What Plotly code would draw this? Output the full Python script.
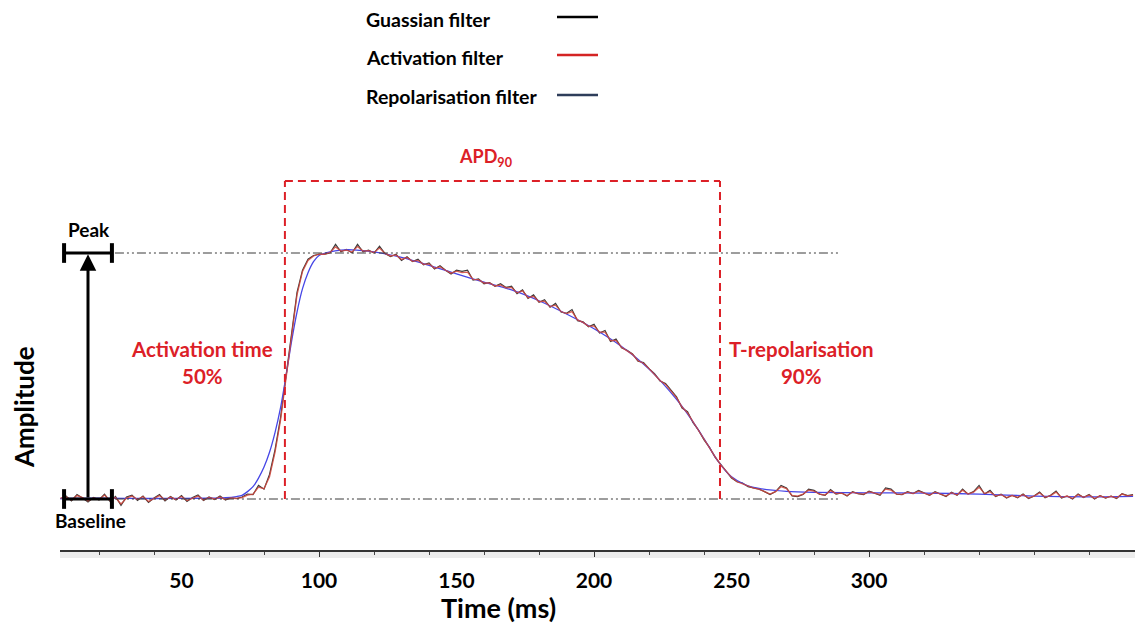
import plotly.graph_objects as go

# ---------------- data ----------------
time_ms = list(range(6, 397, 2))  # sampling grid, 2 ms

gaussian_vals = [
    # 6-70 ms baseline
    0.000, 0.012, -0.008, 0.018, 0.004, -0.012, 0.006, -0.004, 0.020, -0.010,
    0.010, -0.026, 0.008, 0.016, -0.006, 0.012, -0.014, 0.004, 0.018, -0.008,
    0.010, -0.004, 0.014, -0.010, 0.006, 0.016, -0.006, 0.008, -0.002, 0.012,
    -0.004, 0.006, 0.002,
    # 72-100 ms upstroke
    0.008, 0.020, 0.018, 0.055, 0.040, 0.100, 0.200, 0.330, 0.500, 0.670,
    0.840, 0.930, 0.975, 0.990, 0.995,
    # 102-396 ms plateau, repolarisation, tail
    0.995, 1.000, 1.035, 1.005, 1.015, 1.000, 1.035, 1.005, 1.012, 1.000,
    1.028, 0.998, 0.985, 0.995, 0.970, 0.985, 0.965, 0.975, 0.952, 0.960,
    0.935, 0.948, 0.930, 0.915, 0.930, 0.925, 0.930, 0.890, 0.895, 0.875,
    0.880, 0.865, 0.875, 0.860, 0.865, 0.835, 0.850, 0.815, 0.830, 0.800,
    0.810, 0.780, 0.795, 0.760, 0.755, 0.770, 0.725, 0.720, 0.700, 0.710,
    0.675, 0.685, 0.640, 0.650, 0.615, 0.605, 0.590, 0.560, 0.555, 0.530,
    0.510, 0.480, 0.470, 0.440, 0.415, 0.370, 0.355, 0.310, 0.280, 0.240,
    0.210, 0.170, 0.140, 0.115, 0.085, 0.070, 0.065, 0.050, 0.045, 0.040,
    0.030, 0.018, 0.030, 0.055, 0.045, 0.012, 0.010, 0.018, 0.040, 0.035,
    0.020, 0.015, 0.038, 0.020, 0.025, 0.012, 0.030, 0.022, 0.018, 0.032,
    0.024, 0.015, 0.045, 0.040, 0.020, 0.018, 0.030, 0.022, 0.035, 0.025,
    0.015, 0.030, 0.020, 0.010, 0.028, 0.015, 0.040, 0.020, 0.030, 0.055,
    0.020, 0.035, 0.010, 0.020, 0.004, 0.015, 0.005, 0.020, 0.002, 0.012,
    0.028, 0.005, 0.015, 0.032, 0.004, 0.012, 0.000, 0.020, 0.006, 0.018,
    0.000, 0.014, 0.004, 0.012, 0.002, 0.022, 0.014, 0.018,
]

activation_vals = [
    0.004, 0.008, -0.004, 0.014, 0.006, -0.008, 0.004, -0.002, 0.016, -0.006,
    0.006, -0.020, 0.004, 0.012, -0.002, 0.010, -0.010, 0.002, 0.014, -0.004,
    0.008, -0.002, 0.010, -0.006, 0.004, 0.012, -0.004, 0.006, 0.000, 0.008,
    -0.002, 0.004, 0.002,
    0.006, 0.016, 0.020, 0.048, 0.042, 0.090, 0.190, 0.320, 0.490, 0.660,
    0.830, 0.925, 0.970, 0.988, 0.995,
    0.995, 1.002, 1.025, 1.008, 1.012, 1.004, 1.026, 1.008, 1.010, 1.002,
    1.020, 0.998, 0.988, 0.992, 0.974, 0.982, 0.966, 0.970, 0.954, 0.956,
    0.938, 0.944, 0.930, 0.918, 0.926, 0.920, 0.922, 0.893, 0.892, 0.878,
    0.878, 0.866, 0.870, 0.858, 0.860, 0.838, 0.846, 0.818, 0.824, 0.802,
    0.804, 0.782, 0.788, 0.762, 0.754, 0.762, 0.728, 0.718, 0.702, 0.704,
    0.678, 0.678, 0.644, 0.645, 0.617, 0.604, 0.588, 0.562, 0.552, 0.530,
    0.508, 0.482, 0.466, 0.438, 0.412, 0.374, 0.350, 0.314, 0.278, 0.244,
    0.208, 0.172, 0.140, 0.112, 0.088, 0.070, 0.062, 0.052, 0.044, 0.040,
    0.030, 0.020, 0.030, 0.050, 0.042, 0.015, 0.012, 0.020, 0.036, 0.032,
    0.020, 0.016, 0.034, 0.022, 0.024, 0.014, 0.028, 0.022, 0.020, 0.030,
    0.024, 0.018, 0.040, 0.036, 0.020, 0.019, 0.028, 0.022, 0.032, 0.024,
    0.016, 0.028, 0.020, 0.012, 0.026, 0.016, 0.036, 0.020, 0.028, 0.048,
    0.022, 0.030, 0.012, 0.018, 0.006, 0.014, 0.007, 0.018, 0.004, 0.012,
    0.025, 0.007, 0.014, 0.028, 0.006, 0.012, 0.002, 0.018, 0.007, 0.016,
    0.002, 0.013, 0.005, 0.011, 0.004, 0.020, 0.013, 0.016,
]

repol_time = [6, 20, 40, 60, 66, 70, 72, 74, 76, 78, 80, 82, 84, 86, 88, 90,
              92, 94, 96, 98, 100, 104, 108, 112, 116, 120, 130, 140, 150,
              160, 170, 180, 190, 200, 210, 220, 230, 235, 240, 245, 250,
              255, 260, 270, 280, 300, 320, 340, 360, 380, 396]
repol_vals = [0.002, 0.003, 0.002, 0.003, 0.005, 0.010, 0.015, 0.030, 0.050,
              0.085, 0.130, 0.190, 0.270, 0.370, 0.500, 0.640, 0.760, 0.855,
              0.920, 0.965, 0.990, 1.005, 1.012, 1.013, 1.010, 1.005, 0.982,
              0.950, 0.915, 0.882, 0.850, 0.806, 0.752, 0.692, 0.620, 0.528,
              0.405, 0.330, 0.245, 0.155, 0.090, 0.058, 0.043, 0.031, 0.027,
              0.025, 0.024, 0.020, 0.012, 0.009, 0.011]

x_tick_labels = [50, 100, 150, 200, 250, 300]
x_minor_ticks = [20, 40, 60, 80, 100, 120, 140, 160, 180, 200, 220, 240, 260,
                 280, 300, 320, 340, 360, 380]
x_major_ticks = [100, 200, 300]

baseline_level = 0.0
peak_level = 1.0
activation_time_ms = 87.6   # 50 % activation
repol_time_ms = 245.8       # 90 % repolarisation
apd_box_top = 1.293

# ---------------- styling ----------------
W, H = 1135, 626
FONT = "Lato"
RED = "#dc2027"
BLUE = "#4646e6"
NAVY = "#2e3d5a"

fig = go.Figure()
fig.add_trace(go.Scatter(x=time_ms, y=gaussian_vals, mode="lines", name="Guassian filter",
                         line=dict(color="#3a3a3a", width=1.2), showlegend=False, hoverinfo="skip"))
fig.add_trace(go.Scatter(x=time_ms, y=activation_vals, mode="lines", name="Activation filter",
                         line=dict(color="#d0453a", width=1.3), opacity=0.85, showlegend=False,
                         xaxis="x3", hoverinfo="skip"))
fig.add_trace(go.Scatter(x=repol_time, y=repol_vals, mode="lines", name="Repolarisation filter",
                         line=dict(color=BLUE, width=1.3, shape="spline", smoothing=0.8),
                         xaxis="x2", showlegend=False, hoverinfo="skip"))

x_left_px, axis_px = 60, 550
x_range = [5.82, 396.7]
y_range = [-0.2073, 2.0285]

fig.update_layout(
    width=W, height=H,
    margin=dict(l=0, r=0, t=0, b=0),
    paper_bgcolor="white", plot_bgcolor="white",
    font=dict(family=FONT, color="black"),
    # minor tick marks every 20 ms
    xaxis=dict(domain=[x_left_px / W, 1], range=x_range, showgrid=False, zeroline=False,
               showline=True, linecolor="#333333", linewidth=1.5,
               tickmode="array", tickvals=x_minor_ticks, ticks="outside", ticklen=3,
               tickwidth=1, tickcolor="#444444", showticklabels=False),
    # tick labels every 50 ms
    xaxis2=dict(overlaying="x", matches="x", anchor="y", side="bottom", range=x_range,
                showgrid=False, zeroline=False, showline=False, ticks="",
                tickmode="array", tickvals=x_tick_labels,
                ticktext=[str(v) for v in x_tick_labels],
                tickfont=dict(family=FONT, size=21, color="black", weight="bold"),
                ticklabelstandoff=16),
    # taller marks at 100, 200, 300
    xaxis3=dict(overlaying="x", matches="x", anchor="y", side="bottom", range=x_range,
                showgrid=False, zeroline=False, showline=False,
                tickmode="array", tickvals=x_major_ticks, ticks="outside", ticklen=6,
                tickwidth=1.3, tickcolor="#333333", showticklabels=False),
    yaxis=dict(domain=[1 - axis_px / H, 1], range=y_range, visible=False),
)

shapes = []
# light strip under the axis line
shapes.append(dict(type="rect", xref="paper", yref="paper", x0=x_left_px / W, x1=1,
                   y0=1 - 558 / H, y1=1 - 551.5 / H, fillcolor="#ececec", line=dict(width=0),
                   layer="below"))
# peak / baseline dash-dot guide lines
ddot = "9px,3px,2px,3px,2px,3px"
for lvl in (peak_level, baseline_level):
    shapes.append(dict(type="line", xref="x", yref="y", x0=25.8, x1=288.7, y0=lvl, y1=lvl,
                       line=dict(color="#3a3a3a", width=1, dash=ddot)))
# APD90 dashed box (open at the bottom)
red_dash = dict(color=RED, width=2, dash="8px,5px")
shapes.append(dict(type="line", xref="x", yref="y", x0=activation_time_ms, x1=activation_time_ms,
                   y0=baseline_level, y1=apd_box_top, line=red_dash))
shapes.append(dict(type="line", xref="x", yref="y", x0=repol_time_ms, x1=repol_time_ms,
                   y0=baseline_level, y1=apd_box_top, line=red_dash))
shapes.append(dict(type="line", xref="x", yref="y", x0=activation_time_ms, x1=repol_time_ms,
                   y0=apd_box_top, y1=apd_box_top, line=red_dash))
# peak / baseline H-bars
bar_x0, bar_x1, cap = 7.3, 24.7, 0.04
for lvl in (peak_level, baseline_level):
    shapes.append(dict(type="line", xref="x", yref="y", x0=bar_x0, x1=bar_x1, y0=lvl, y1=lvl,
                       line=dict(color="black", width=3)))
    for xc in (bar_x0, bar_x1):
        shapes.append(dict(type="line", xref="x", yref="y", x0=xc, x1=xc, y0=lvl - cap,
                           y1=lvl + cap, line=dict(color="black", width=4)))
# legend sample lines
legend_items = [("Guassian filter", "black", 19), ("Activation filter", "#d42424", 57),
                ("Repolarisation filter", NAVY, 97)]
for _, col, ypx in legend_items:
    shapes.append(dict(type="line", xref="paper", yref="paper", x0=557 / W, x1=598 / W,
                       y0=1 - (ypx - 2) / H, y1=1 - (ypx - 2) / H, line=dict(color=col, width=2.5)))
fig.update_layout(shapes=shapes)

ann = []
# arrow from baseline to peak
arrow_x = 16.0
ann.append(dict(x=arrow_x, y=peak_level - 0.005, xref="x", yref="y", ax=arrow_x, ay=baseline_level,
                axref="x", ayref="y", showarrow=True, arrowhead=2, arrowsize=1.1,
                arrowwidth=3, arrowcolor="black", text=""))
bold = dict(family=FONT, weight="bold")
ann.append(dict(x=arrow_x + 0.5, y=peak_level, xref="x", yref="y", yshift=24, showarrow=False,
                xanchor="center", yanchor="middle",
                text="Peak", font=dict(**bold, size=19, color="black")))
ann.append(dict(x=arrow_x + 1, y=baseline_level, xref="x", yref="y", yshift=-21, showarrow=False,
                xanchor="center", yanchor="middle",
                text="Baseline", font=dict(**bold, size=19, color="black")))
ann.append(dict(x=57.5, y=0.553, xref="x", yref="y", showarrow=False,
                xanchor="center", yanchor="middle",
                text="Activation time<br>50%", align="center",
                font=dict(**bold, size=20.5, color=RED)))
ann.append(dict(x=275.6, y=0.553, xref="x", yref="y", showarrow=False,
                xanchor="center", yanchor="middle",
                text="T-repolarisation<br>90%", align="center",
                font=dict(**bold, size=20.5, color=RED)))
ann.append(dict(x=160.7, y=1.39, xref="x", yref="y", showarrow=False,
                xanchor="center", yanchor="middle",
                text="APD<sub>90</sub>", font=dict(**bold, size=18, color=RED)))
ann.append(dict(x=498 / W, y=1 - 607 / H, xref="paper", yref="paper", showarrow=False,
                xanchor="center", yanchor="middle",
                text="Time (ms)", font=dict(**bold, size=27, color="black")))
ann.append(dict(x=24 / W, y=1 - 407 / H, xref="paper", yref="paper", showarrow=False,
                xanchor="center", yanchor="middle",
                text="Amplitude", textangle=-90, font=dict(**bold, size=26, color="black")))
for label, _, ypx in legend_items:
    ann.append(dict(x=364 / W, y=1 - ypx / H, xref="paper", yref="paper", xanchor="left",
                    yanchor="middle", showarrow=False, text=label,
                    font=dict(**bold, size=19.5, color="black")))
fig.update_layout(annotations=ann)

fig.write_html("out.html")
